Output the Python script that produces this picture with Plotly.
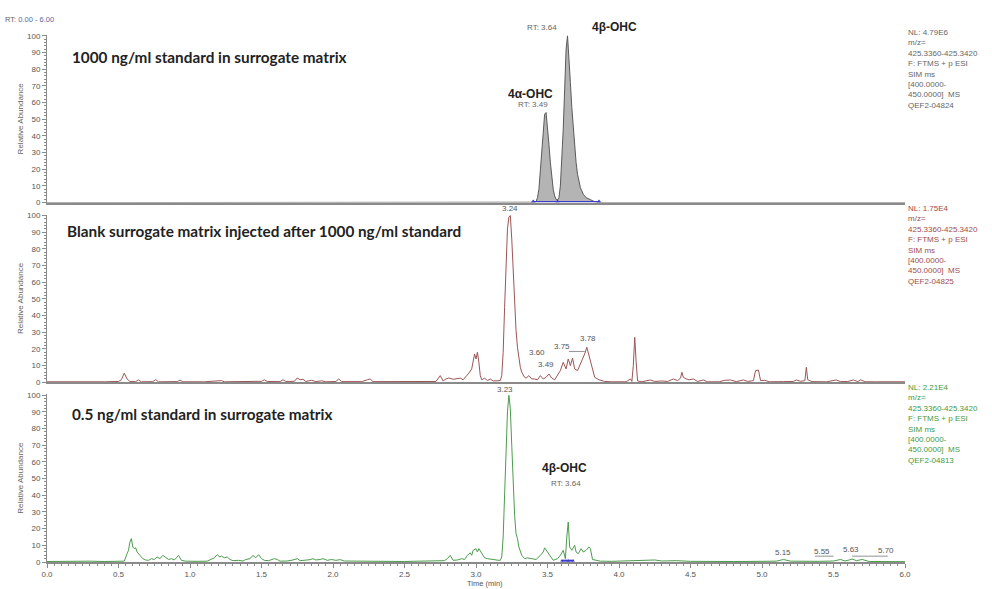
import plotly.graph_objects as go

# ---------------- data ----------------
top_t = [0.00, 3.38, 3.40, 3.42, 3.43, 3.44, 3.45, 3.46, 3.47, 3.48, 3.49, 3.50, 3.51, 3.52, 3.53,
         3.54, 3.55, 3.56, 3.57, 3.58, 3.59, 3.60, 3.61, 3.62, 3.63, 3.64, 3.65, 3.66, 3.67, 3.68,
         3.69, 3.70, 3.71, 3.72, 3.73, 3.74, 3.75, 3.77, 3.80, 3.83, 3.86, 3.90, 6.00]
top_v = [0.0, 0.0, 0.2, 0.6, 3, 8, 18, 30, 43, 53, 54, 46, 35, 24, 14,
         8, 4, 2, 1.5, 3, 10, 24, 44, 68, 92, 100, 88, 72, 57, 45,
         33, 24, 17, 12, 9, 7, 5, 3, 1.5, 0.5, 0.2, 0.0, 0.0]

mid_t = [0.00, 0.10, 0.20, 0.30, 0.40, 0.50, 0.52, 0.54, 0.56, 0.58, 0.62, 0.64, 0.66, 0.74, 0.76,
         0.78, 0.91, 0.93, 0.95, 1.10, 1.22, 1.24, 1.40, 1.50, 1.52, 1.54, 1.63, 1.65, 1.67, 1.73,
         1.75, 1.77, 1.79, 1.81, 1.85, 1.88, 1.92, 1.95, 2.02, 2.04, 2.06, 2.20, 2.24, 2.26, 2.28,
         2.45, 2.60, 2.72, 2.75, 2.77, 2.79, 2.81, 2.84, 2.87, 2.89, 2.91, 2.93, 2.95, 2.97, 2.98,
         2.99, 3.00, 3.01, 3.02, 3.03, 3.04, 3.06, 3.08, 3.10, 3.12, 3.15, 3.17, 3.18, 3.19, 3.20,
         3.21, 3.22, 3.23, 3.24, 3.25, 3.26, 3.27, 3.28, 3.29, 3.30, 3.31, 3.32, 3.33, 3.34, 3.35,
         3.37, 3.39, 3.41, 3.43, 3.45, 3.47, 3.49, 3.51, 3.53, 3.55, 3.57, 3.59, 3.61, 3.62, 3.63,
         3.645, 3.66, 3.675, 3.69, 3.71, 3.73, 3.74, 3.76, 3.775, 3.79, 3.81, 3.83, 3.86, 3.90, 3.95,
         4.00, 4.05, 4.08, 4.09, 4.10, 4.11, 4.12, 4.13, 4.16, 4.22, 4.25, 4.30, 4.34, 4.38, 4.41,
         4.43, 4.44, 4.45, 4.47, 4.49, 4.52, 4.55, 4.59, 4.62, 4.70, 4.74, 4.78, 4.82, 4.87, 4.90,
         4.94, 4.955, 4.975, 4.99, 5.02, 5.05, 5.15, 5.22, 5.24, 5.27, 5.30, 5.31, 5.32, 5.35, 5.45,
         5.52, 5.55, 5.60, 5.64, 5.67, 5.69, 5.72, 5.80, 5.90, 6.00]
mid_v = [0.3, 0.2, 0.4, 0.2, 0.3, 0.5, 1.5, 5.5, 2, 0.5, 0.4, 1.4, 0.3, 0.4, 1.6,
         0.3, 0.4, 1.3, 0.3, 0.3, 1.0, 0.3, 0.4, 0.6, 1.5, 0.5, 0.4, 1.5, 0.5, 0.6,
         2.6, 1.5, 1.8, 0.5, 1.2, 0.4, 0.9, 0.3, 0.5, 2.0, 0.4, 0.4, 1.5, 2.0, 0.4,
         0.3, 0.4, 0.5, 4.0, 0.8, 2.0, 2.6, 1.8, 2.0, 2.5, 1.5, 3.4, 5.5, 8, 12,
         17, 14, 18, 12, 4, 1.5, 2.5, 1.0, 2.0, 0.8, 1.0, 1.0, 4, 18, 45,
         72, 92, 99, 100, 86, 66, 46, 31, 21, 14, 9, 6, 4, 3, 2.5,
         4, 2, 2, 1.5, 4, 2, 3, 5, 2.5, 1.5, 4, 7, 12, 10, 8,
         14, 10, 14.5, 8, 7, 11, 12, 17, 21, 16, 9, 3, 1.5, 0.5, 0.3,
         0.5, 0.3, 2.0, 0.5, 10, 27, 12, 0.8, 0.3, 1.4, 0.5, 0.8, 0.5, 2.0, 1.0,
         2.5, 6, 3, 2, 1.5, 2, 0.5, 1.4, 0.3, 0.3, 1.2, 1.4, 0.4, 1.4, 0.5,
         1.0, 7, 7.3, 1.0, 1.2, 0.3, 0.4, 0.5, 1.4, 0.6, 1.0, 9, 1.5, 0.4, 0.3,
         1.4, 0.4, 0.5, 1.4, 0.4, 1.5, 0.3, 0.3, 0.2, 0.3]

bot_t = [0.00, 0.10, 0.20, 0.30, 0.40, 0.50, 0.54, 0.56, 0.57, 0.58, 0.59, 0.60, 0.61, 0.62, 0.63,
         0.65, 0.67, 0.69, 0.71, 0.73, 0.75, 0.77, 0.79, 0.81, 0.83, 0.85, 0.87, 0.89, 0.91, 0.92,
         0.94, 0.97, 1.05, 1.12, 1.17, 1.19, 1.21, 1.22, 1.24, 1.26, 1.28, 1.30, 1.34, 1.37, 1.39,
         1.42, 1.44, 1.46, 1.48, 1.50, 1.52, 1.55, 1.59, 1.61, 1.63, 1.68, 1.72, 1.75, 1.77, 1.80,
         1.84, 1.86, 1.88, 1.91, 1.93, 1.96, 1.99, 2.02, 2.05, 2.08, 2.15, 2.24, 2.30, 2.40, 2.50,
         2.60, 2.70, 2.78, 2.80, 2.82, 2.84, 2.87, 2.90, 2.92, 2.94, 2.96, 2.97, 2.98, 3.00, 3.01,
         3.02, 3.04, 3.06, 3.08, 3.11, 3.14, 3.16, 3.17, 3.18, 3.19, 3.20, 3.21, 3.22, 3.23, 3.24,
         3.25, 3.26, 3.27, 3.28, 3.29, 3.30, 3.31, 3.32, 3.34, 3.36, 3.39, 3.42, 3.45, 3.47, 3.48,
         3.50, 3.52, 3.54, 3.57, 3.59, 3.61, 3.625, 3.635, 3.645, 3.655, 3.67, 3.69, 3.70, 3.715, 3.735,
         3.75, 3.77, 3.79, 3.80, 3.815, 3.84, 3.87, 3.95, 4.00, 4.10, 4.20, 4.25, 4.30, 4.40, 4.50,
         4.60, 4.80, 5.00, 5.10, 5.15, 5.20, 5.40, 5.50, 5.55, 5.58, 5.61, 5.63, 5.66, 5.70, 5.75,
         5.90, 6.00]
bot_v = [0.3, 0.5, 0.3, 0.5, 0.3, 0.4, 0.5, 5, 7, 12, 14, 9, 8, 8.5, 6,
         4, 2, 1.2, 1.0, 2.0, 1.5, 3, 2, 4, 2.6, 1.5, 2, 1.2, 3, 4,
         1.0, 0.5, 0.4, 0.5, 2.5, 4.4, 3, 3.6, 2.5, 3, 1.5, 0.8, 1.0, 0.6, 1.5,
         2, 4, 2.5, 4.4, 2, 1.0, 0.8, 2, 1.5, 0.5, 0.6, 1.2, 2, 0.8, 1.0,
         1.4, 2, 1.2, 1.5, 2, 1.0, 1.5, 1.0, 1.4, 0.6, 0.5, 0.8, 0.4, 0.5, 0.3,
         0.5, 0.6, 0.8, 2, 4, 1.0, 1.2, 2, 1.5, 4, 5.5, 4, 7, 8, 6,
         8, 5, 2.5, 2, 1.5, 1.4, 1.0, 1.0, 3, 15, 40, 68, 90, 100, 92,
         70, 45, 28, 17, 14, 9, 6, 4, 2, 2.5, 2, 1.5, 4, 6, 8.5,
         6, 3, 1.0, 2, 4, 7, 2, 15, 24, 9, 7, 10, 6, 5, 8,
         6, 7, 9, 8, 1.5, 1.0, 0.5, 0.4, 0.5, 0.6, 0.8, 1.2, 0.6, 0.8, 0.4,
         0.5, 0.3, 0.4, 0.5, 1.5, 0.5, 0.4, 0.6, 1.5, 0.6, 1.2, 1.8, 0.8, 1.5, 0.3,
         0.3, 0.2]

top_integ_t = [3.40, 3.57, 3.86]
top_integ_v = [0.6, 0.6, 0.6]
bot_integ_t = [3.60, 3.645, 3.68]
bot_integ_v = [0.8, 0.8, 0.8]

panel_titles = ["1000 ng/ml standard in surrogate matrix",
                "Blank surrogate matrix injected after 1000 ng/ml standard",
                "0.5 ng/ml standard in surrogate matrix"]
info_texts = [
    "NL: 4.79E6<br>m/z=<br>425.3360-425.3420<br>F: FTMS + p ESI<br>SIM ms<br>[400.0000-<br>450.0000]  MS<br>QEF2-04824",
    "NL: 1.75E4<br>m/z=<br>425.3360-425.3420<br>F: FTMS + p ESI<br>SIM ms<br>[400.0000-<br>450.0000]  MS<br>QEF2-04825",
    "NL: 2.21E4<br>m/z=<br>425.3360-425.3420<br>F: FTMS + p ESI<br>SIM ms<br>[400.0000-<br>450.0000]  MS<br>QEF2-04813",
]
info_colors = ["#666666", "#a24b4b", "#3f9a3f"]
x_ticks = [0.0, 0.5, 1.0, 1.5, 2.0, 2.5, 3.0, 3.5, 4.0, 4.5, 5.0, 5.5, 6.0]
y_ticks = [0, 10, 20, 30, 40, 50, 60, 70, 80, 90, 100]

# ---------------- figure ----------------
TICKF = "Liberation Sans, Arial, sans-serif"
TITLEF = "Lato, Open Sans, sans-serif"
fig = go.Figure()

fig.add_trace(go.Scatter(x=top_t, y=top_v, mode="lines", fill="tozeroy",
                         fillcolor="#b4b4b4", line=dict(color="#5a5a5a", width=1),
                         xaxis="x", yaxis="y", hoverinfo="skip"))
fig.add_trace(go.Scatter(x=top_integ_t, y=top_integ_v, mode="lines+markers",
                         line=dict(color="#3b3bd0", width=1.2),
                         marker=dict(symbol="triangle-up", size=4, color="#3b3bd0"),
                         xaxis="x", yaxis="y", hoverinfo="skip"))
fig.add_trace(go.Scatter(x=mid_t, y=mid_v, mode="lines",
                         line=dict(color="#9c5555", width=1),
                         xaxis="x2", yaxis="y2", hoverinfo="skip"))
fig.add_trace(go.Scatter(x=bot_t, y=bot_v, mode="lines",
                         line=dict(color="#4c9c4c", width=1),
                         xaxis="x3", yaxis="y3", hoverinfo="skip"))
fig.add_trace(go.Scatter(x=bot_integ_t, y=bot_integ_v, mode="lines+markers",
                         line=dict(color="#3b3bd0", width=2),
                         marker=dict(symbol="triangle-up", size=3, color="#3b3bd0"),
                         xaxis="x3", yaxis="y3", hoverinfo="skip"))

domains = [[0.682, 1.0], [0.341, 0.659], [0.0, 0.318]]
YMAX = 100.5
axis_grey = "#8a8a8a"
for i in range(3):
    sfx = "" if i == 0 else str(i + 1)
    yax = dict(domain=domains[i], range=[0, YMAX], tickvals=y_ticks, automargin=False,
               ticks="outside", ticklen=4, tickcolor=axis_grey, tickwidth=1,
               minor=dict(dtick=2, ticks="outside", ticklen=2, tickcolor=axis_grey),
               showline=True, linecolor=axis_grey, linewidth=1, showgrid=False,
               zeroline=False, anchor="x" + sfx,
               tickfont=dict(family=TICKF, size=8, color="#555555"),
               title=dict(text="Relative Abundance", standoff=2,
                          font=dict(family=TICKF, size=8, color="#666666")))
    last = (i == 2)
    xax = dict(range=[0, 6], anchor="y" + sfx, showgrid=False, zeroline=False, automargin=False,
               showline=True, linecolor=axis_grey, linewidth=1.6,
               showticklabels=last, tickvals=x_ticks if last else [],
               ticktext=[f"{v:.1f}" for v in x_ticks] if last else [],
               ticks="outside" if last else "", ticklen=4, tickcolor=axis_grey,
               tickfont=dict(family=TICKF, size=8, color="#555555"))
    if last:
        xax["minor"] = dict(dtick=0.05, ticks="outside", ticklen=2, tickcolor=axis_grey)
    else:
        xax["matches"] = "x3"
    fig.layout["yaxis" + sfx] = yax
    fig.layout["xaxis" + sfx] = xax

ann = []
def lab(x, val, text, panel, size=8, color="#666666", bold=False, xanchor="center",
        family=TICKF):
    d0, d1 = domains[panel]
    ref = "" if panel == 0 else str(panel + 1)
    ann.append(dict(x=x, y=d0 + val / YMAX * (d1 - d0), xref="x" + ref, yref="paper",
                    text=(f"<b>{text}</b>" if bold else text),
                    showarrow=False, xanchor=xanchor, yanchor="middle",
                    font=dict(family=family, size=size, color=color)))

# panel titles
lab(0.16, 87.5, panel_titles[0], 0, size=15.3, color="#222222", bold=True, xanchor="left", family=TITLEF)
lab(0.126, 90.5, panel_titles[1], 1, size=15.3, color="#222222", bold=True, xanchor="left", family=TITLEF)
lab(0.16, 89, panel_titles[2], 2, size=15.3, color="#222222", bold=True, xanchor="left", family=TITLEF)

# top peak labels
lab(3.46, 105, "RT: 3.64", 0, size=8)
lab(3.97, 105, "4β-OHC", 0, size=12, color="#222222", bold=True)
lab(3.38, 65, "4α-OHC", 0, size=12, color="#222222", bold=True)
lab(3.40, 59, "RT: 3.49", 0, size=8)

# middle labels
lab(3.24, 104, "3.24", 1, size=8, color="#555555")
lab(3.43, 17.9, "3.60", 1, size=8, color="#555555")
lab(3.49, 10.7, "3.49", 1, size=8, color="#555555")
lab(3.60, 21.4, "3.75", 1, size=8, color="#555555")
lab(3.78, 26.2, "3.78", 1, size=8, color="#555555")

# bottom labels
lab(3.20, 103.6, "3.23", 2, size=8, color="#555555")
lab(3.62, 56.5, "4β-OHC", 2, size=12, color="#222222", bold=True)
lab(3.63, 47, "RT: 3.64", 2, size=8)
lab(5.15, 5.8, "5.15", 2, size=8, color="#555555")
lab(5.42, 6.1, "5.55", 2, size=8, color="#555555")
lab(5.62, 7.5, "5.63", 2, size=8, color="#555555")
lab(5.87, 7.1, "5.70", 2, size=8, color="#555555")

# info blocks right
info_y = [1.018, 0.684, 0.343]
for txt, col, yy in zip(info_texts, info_colors, info_y):
    ann.append(dict(x=1.0, y=yy, xref="paper", yref="paper", text=txt, showarrow=False,
                    xanchor="left", yanchor="top", align="left", xshift=1,
                    font=dict(family=TICKF, size=8, color=col)))

# RT range header and time label
ann.append(dict(x=-0.0513, y=1.030, xref="paper", yref="paper", showarrow=False,
                xanchor="left", yanchor="middle",
                text="RT: <span style='color:#5868a8'>0.00 - 6.00</span>",
                font=dict(family=TICKF, size=7.5, color="#666666")))
ann.append(dict(x=3.06, y=-0.040, xref="x3", yref="paper", showarrow=False,
                xanchor="center", yanchor="middle", text="Time (min)",
                font=dict(family=TICKF, size=7.5, color="#555555")))

shapes = [
    dict(type="line", xref="x2", yref="y2", x0=3.65, x1=3.76, y0=18.5, y1=18.5,
         line=dict(color="#777777", width=0.8)),
    dict(type="line", xref="x3", yref="y3", x0=5.37, x1=5.50, y0=3.5, y1=3.5,
         line=dict(color="#777777", width=0.8)),
    dict(type="line", xref="x3", yref="y3", x0=5.63, x1=5.88, y0=3.5, y1=3.5,
         line=dict(color="#777777", width=0.8)),
]

fig.update_layout(width=992, height=589, margin=dict(l=47, r=87, t=35, b=27, autoexpand=False),
                  paper_bgcolor="white", plot_bgcolor="white", showlegend=False,
                  annotations=ann, shapes=shapes)

fig.write_html("out.html", config={"displayModeBar": False},
               post_script="document.body.style.margin='0';document.body.style.overflow='hidden';")
